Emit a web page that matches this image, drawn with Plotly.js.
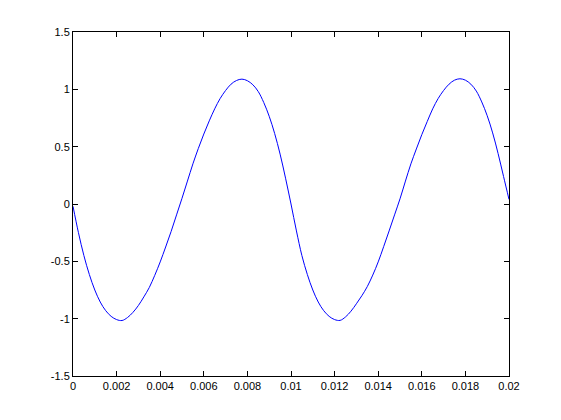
<!DOCTYPE html>
<html>
<head>
<meta charset="utf-8">
<script src="https://cdn.plot.ly/plotly-3.0.1.min.js"></script>
<style>
  html, body { margin: 0; padding: 0; background: #fff; }
  #plot { width: 561px; height: 420px; }
</style>
</head>
<body>
<div id="plot"></div>
<script>
// sample times and values
var t = [0, 0.00025, 0.0005, 0.00075, 0.001, 0.00125, 0.0015, 0.00175, 0.002, 0.00225,
         0.0025, 0.00275, 0.003, 0.00325, 0.0035, 0.00375, 0.004, 0.00425, 0.0045, 0.00475,
         0.005, 0.00525, 0.0055, 0.00575, 0.006, 0.00625, 0.0065, 0.00675, 0.007, 0.00725,
         0.0075, 0.00775, 0.008, 0.00825, 0.0085, 0.00875, 0.009, 0.00925, 0.0095, 0.00975,
         0.01, 0.01025, 0.0105, 0.01075, 0.011, 0.01125, 0.0115, 0.01175, 0.012, 0.01225,
         0.0125, 0.01275, 0.013, 0.01325, 0.0135, 0.01375, 0.014, 0.01425, 0.0145, 0.01475,
         0.015, 0.01525, 0.0155, 0.01575, 0.016, 0.01625, 0.0165, 0.01675, 0.017, 0.01725,
         0.0175, 0.01775, 0.018, 0.01825, 0.0185, 0.01875, 0.019, 0.01925, 0.0195, 0.01975,
         0.02];
var y = [-0.02, -0.25, -0.45, -0.615, -0.75, -0.855, -0.93, -0.98, -1.008, -1.016,
         -0.99, -0.945, -0.885, -0.81, -0.728, -0.622, -0.505, -0.375, -0.24, -0.095,
         0.05, 0.2, 0.35, 0.485, 0.61, 0.725, 0.83, 0.92, 0.99, 1.045,
         1.077, 1.089, 1.075, 1.04, 0.98, 0.885, 0.765, 0.615, 0.435, 0.225,
         0.0, -0.235, -0.45, -0.615, -0.75, -0.855, -0.93, -0.98, -1.008, -1.015,
         -0.985, -0.935, -0.87, -0.8, -0.72, -0.62, -0.505, -0.372, -0.235, -0.095,
         0.045, 0.2, 0.35, 0.48, 0.605, 0.72, 0.83, 0.92, 0.99, 1.045,
         1.08, 1.092, 1.08, 1.045, 0.985, 0.89, 0.77, 0.62, 0.44, 0.24,
         0.04];

var xTicks = [0, 0.002, 0.004, 0.006, 0.008, 0.01, 0.012, 0.014, 0.016, 0.018, 0.02];
var xTickText = ['0', '0.002', '0.004', '0.006', '0.008', '0.01', '0.012', '0.014', '0.016', '0.018', '0.02'];
var yTicks = [-1.5, -1, -0.5, 0, 0.5, 1, 1.5];
var yTickText = ['-1.5', '-1', '-0.5', '0', '0.5', '1', '1.5'];

var data = [{
  type: 'scatter',
  mode: 'lines',
  x: t,
  y: y,
  line: {color: '#0000ff', width: 1, shape: 'spline', smoothing: 1},
  hoverinfo: 'skip'
}];

var axisStyle = {
  showgrid: false,
  zeroline: false,
  showline: true,
  linecolor: '#000',
  linewidth: 1,
  mirror: 'ticks',
  ticks: 'inside',
  ticklen: 5,
  tickwidth: 1,
  tickcolor: '#000',
  tickmode: 'array'
};

var layout = {
  width: 561,
  height: 420,
  showlegend: false,
  paper_bgcolor: '#fff',
  plot_bgcolor: '#fff',
  font: {family: 'Liberation Sans, Arial, sans-serif', size: 11, color: '#000'},
  margin: {l: 73, r: 52, t: 32, b: 44},
  xaxis: Object.assign({}, axisStyle, {range: [0, 0.02], tickvals: xTicks, ticktext: xTickText}),
  yaxis: Object.assign({}, axisStyle, {range: [-1.5, 1.5], tickvals: yTicks, ticktext: yTickText})
};

Plotly.newPlot('plot', data, layout, {displayModeBar: false, staticPlot: true});
</script>
</body>
</html>
